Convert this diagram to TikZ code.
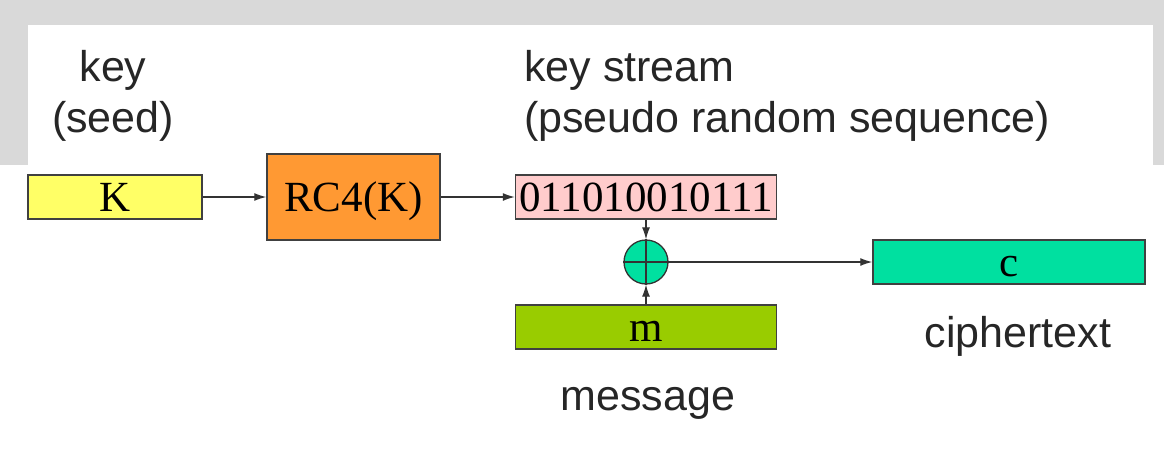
\documentclass[tikz,border=0pt]{standalone}
\usepackage{fontspec}
\setmainfont{Liberation Serif}
\setsansfont{Liberation Sans}
\usepackage{tikz}
\usetikzlibrary{arrows.meta}
\usetikzlibrary{positioning}
\usepackage{xcolor}
\definecolor{seedyellow}{HTML}{FFFF66}
\definecolor{rcorange}{HTML}{FF9933}
\definecolor{streampink}{HTML}{FFCCCC}
\definecolor{msggreen}{HTML}{99CC00}
\definecolor{ciphergreen}{HTML}{00E0A0}
\definecolor{framegray}{HTML}{D9D9D9}
\def\bigtext{\fontsize{43}{51}\selectfont}
\def\outerband{(0,0) rectangle (1164,165)}
\def\innerband{(28,25) rectangle (1153,165)}

\begin{document}
\begin{tikzpicture}[x=1pt, y=-1pt,
        box/.style={draw=black!75, line width=1.5pt, inner sep=0pt, minimum height=44pt,
            font=\bigtext\rmfamily, text height=32pt, text depth=4pt},
        lbl/.style={inner sep=0pt, font=\bigtext\sffamily, text=black!85},
        link/.style={-{Latex[length=12pt,width=8pt]}, line width=1.2pt, draw=black!80}]
        \useasboundingbox (0,0) rectangle (1164,466);
        \fill[framegray] \outerband;
        \fill[white] \innerband;
        % boxes
        \node[box, fill=seedyellow, minimum width=174pt] (K) at (115,197) {K};
        \node[box, fill=rcorange, minimum width=173pt, minimum height=86pt] (rc) at (353.5,197) {RC4(K)};
        \node[box, fill=streampink, minimum width=261pt] (stream) at (646,197) {011010010111};
        \node[circle, draw=black!80, line width=1.3pt, fill=ciphergreen, minimum size=44pt, inner sep=0pt] (xor) at (646,262) {};
        \draw[line width=1.3pt, black!80] (xor.north) -- (xor.south) (xor.west) -- (xor.east);
        \node[box, fill=msggreen, minimum width=261pt] (m) at (646,327) {m};
        \node[box, fill=ciphergreen, minimum width=272pt] (c) at (1009,262) {c};
        % labels
        \node[lbl, align=center, anchor=north] (seed) at (113,50) {key\\(seed)};
        \node[lbl, align=left, anchor=north west] (ks) at (524,50) {key stream\\(pseudo random sequence)};
        \node[lbl, anchor=base] (msg) at (648,410) {message};
        \node[lbl, anchor=base] (ct) at (1018,347) {ciphertext};
        % arrows
        \draw[link] (K) -- (rc);
        \draw[link] (rc) -- (stream);
        \draw[link] (stream) -- (xor);
        \draw[link] (m) -- (xor);
        \draw[link] (xor) -- (c);
    \end{tikzpicture}
\end{document}
